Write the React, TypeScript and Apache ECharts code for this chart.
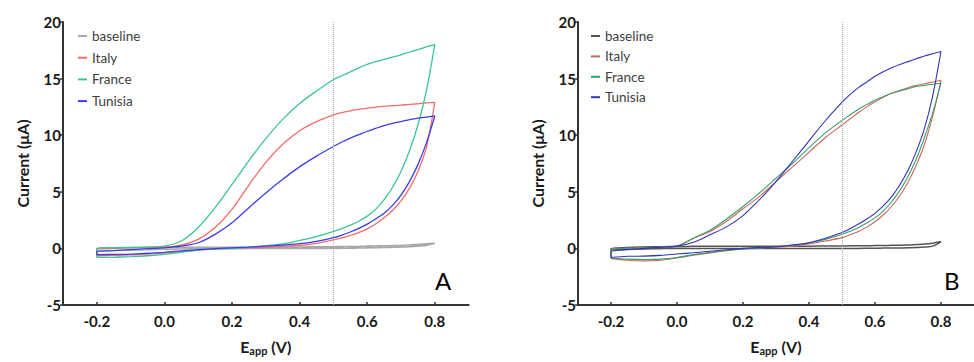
import React, { useEffect, useRef } from "react";
import * as echarts from "echarts";

// Applied potential grid (V) at which currents were read
const potentials = [-0.2, -0.15, -0.1, -0.05, 0, 0.05, 0.1, 0.15, 0.2, 0.25, 0.3, 0.35, 0.4, 0.45, 0.5, 0.525, 0.55, 0.575, 0.6, 0.625, 0.65, 0.675, 0.7, 0.725, 0.75, 0.775, 0.8];
const xTickValues = [-0.2, 0, 0.2, 0.4, 0.6, 0.8];
const referencePotential = 0.5;
const seriesNames = ["baseline", "Italy", "France", "Tunisia"];

// Panel A — current (µA): forward sweep (lower branch) and reverse sweep (upper branch)
const aBaselineFwd = [-0.2, -0.18, -0.15, -0.12, -0.08, -0.05, -0.03, -0.02, -0.02, -0.01, 0.0, 0.0, 0.0, 0.0, 0.0, 0.01, 0.02, 0.03, 0.05, 0.06, 0.08, 0.1, 0.12, 0.15, 0.2, 0.27, 0.45];
const aBaselineRev = [0.0, 0.05, 0.08, 0.1, 0.1, 0.1, 0.1, 0.1, 0.1, 0.1, 0.12, 0.12, 0.13, 0.14, 0.15, 0.16, 0.17, 0.18, 0.2, 0.21, 0.23, 0.25, 0.27, 0.3, 0.35, 0.4, 0.45];
const aItalyFwd = [-0.65, -0.62, -0.58, -0.5, -0.4, -0.28, -0.15, -0.06, 0.0, 0.05, 0.1, 0.18, 0.28, 0.45, 0.75, 0.93, 1.15, 1.4, 1.72, 2.15, 2.7, 3.35, 4.2, 5.3, 6.8, 8.9, 12.9];
const aItalyRev = [-0.05, 0.0, 0.05, 0.08, 0.1, 0.3, 0.8, 1.85, 3.45, 5.6, 7.6, 9.2, 10.4, 11.2, 11.8, 12.0, 12.15, 12.28, 12.4, 12.48, 12.55, 12.6, 12.65, 12.72, 12.78, 12.85, 12.9];
const aFranceFwd = [-0.8, -0.78, -0.73, -0.65, -0.53, -0.35, -0.15, -0.05, 0.0, 0.1, 0.25, 0.4, 0.7, 1.05, 1.5, 1.75, 2.05, 2.4, 2.85, 3.45, 4.3, 5.4, 6.8, 8.6, 10.9, 13.9, 18.0];
const aFranceRev = [0.0, 0.05, 0.08, 0.12, 0.2, 0.65, 1.85, 3.6, 5.65, 7.75, 9.7, 11.4, 12.8, 13.9, 14.9, 15.25, 15.6, 15.95, 16.25, 16.5, 16.7, 16.9, 17.1, 17.35, 17.55, 17.8, 18.0];
const aTunisiaFwd = [-0.55, -0.53, -0.5, -0.43, -0.35, -0.22, -0.1, -0.02, 0.05, 0.12, 0.2, 0.3, 0.42, 0.62, 0.95, 1.18, 1.45, 1.77, 2.15, 2.6, 3.1, 3.8, 4.7, 5.9, 7.4, 9.3, 11.7];
const aTunisiaRev = [-0.3, -0.2, -0.1, -0.02, 0.05, 0.2, 0.5, 1.24, 2.27, 3.6, 4.9, 6.1, 7.2, 8.15, 9.0, 9.4, 9.75, 10.05, 10.35, 10.6, 10.85, 11.05, 11.2, 11.38, 11.5, 11.6, 11.7];

// Panel B
const bBaselineFwd = [-0.15, -0.1, -0.05, -0.02, 0.0, 0.0, 0.0, 0.0, 0.0, 0.0, 0.0, 0.0, 0.0, 0.0, 0.0, 0.0, 0.0, 0.01, 0.02, 0.025, 0.03, 0.04, 0.05, 0.08, 0.12, 0.2, 0.6];
const bBaselineRev = [0.0, 0.08, 0.12, 0.15, 0.17, 0.18, 0.18, 0.18, 0.19, 0.19, 0.2, 0.2, 0.2, 0.21, 0.22, 0.225, 0.23, 0.24, 0.25, 0.26, 0.27, 0.28, 0.3, 0.34, 0.38, 0.46, 0.6];
const bItalyFwd = [-0.9, -1.05, -1.1, -1.05, -0.85, -0.6, -0.4, -0.2, -0.05, 0.05, 0.1, 0.2, 0.4, 0.65, 0.95, 1.2, 1.5, 1.88, 2.35, 2.95, 3.7, 4.65, 5.85, 7.35, 9.2, 11.7, 14.85];
const bItalyRev = [-0.1, 0.0, 0.05, 0.1, 0.2, 0.9, 1.5, 2.4, 3.5, 4.6, 5.9, 7.2, 8.5, 9.8, 10.9, 11.45, 12.0, 12.5, 12.95, 13.35, 13.7, 13.95, 14.2, 14.4, 14.55, 14.7, 14.85];
const bFranceFwd = [-0.85, -0.95, -0.98, -0.95, -0.8, -0.55, -0.35, -0.18, -0.05, 0.05, 0.15, 0.3, 0.5, 0.8, 1.25, 1.52, 1.85, 2.25, 2.7, 3.3, 4.1, 5.1, 6.35, 7.9, 9.8, 12.0, 14.6];
const bFranceRev = [-0.1, 0.0, 0.05, 0.1, 0.2, 0.9, 1.6, 2.6, 3.7, 4.9, 6.2, 7.5, 8.9, 10.2, 11.3, 11.8, 12.3, 12.7, 13.1, 13.4, 13.7, 13.9, 14.1, 14.3, 14.4, 14.5, 14.6];
const bTunisiaFwd = [-0.8, -0.7, -0.68, -0.62, -0.5, -0.38, -0.25, -0.12, 0.0, 0.08, 0.15, 0.3, 0.5, 0.9, 1.4, 1.75, 2.15, 2.6, 3.1, 3.75, 4.55, 5.6, 6.9, 8.55, 10.6, 13.5, 17.4];
const bTunisiaRev = [-0.3, -0.1, 0.0, 0.1, 0.2, 0.55, 1.2, 1.9, 2.9, 4.3, 5.9, 7.7, 9.5, 11.3, 12.9, 13.6, 14.2, 14.7, 15.2, 15.6, 15.95, 16.25, 16.5, 16.75, 17.0, 17.2, 17.4];

const panelA = [
  { fwd: aBaselineFwd, rev: aBaselineRev, color: "#a8a8a8", width: 1.6 },
  { fwd: aItalyFwd, rev: aItalyRev, color: "#f26c6c", width: 1.3 },
  { fwd: aFranceFwd, rev: aFranceRev, color: "#3cc68c", width: 1.3 },
  { fwd: aTunisiaFwd, rev: aTunisiaRev, color: "#3c3cf0", width: 1.3 },
];
const panelB = [
  { fwd: bBaselineFwd, rev: bBaselineRev, color: "#555555", width: 1.5 },
  { fwd: bItalyFwd, rev: bItalyRev, color: "#c8685c", width: 1.1 },
  { fwd: bFranceFwd, rev: bFranceRev, color: "#3a9e6c", width: 1.1 },
  { fwd: bTunisiaFwd, rev: bTunisiaRev, color: "#3434b8", width: 1.1 },
];

function loop(fwd: number[], rev: number[]) {
  const pts: number[][] = potentials.map((e, i) => [e, fwd[i]]);
  for (let i = potentials.length - 2; i >= 0; i--) pts.push([potentials[i], rev[i]]);
  pts.push([potentials[0], fwd[0]]);
  return pts;
}

const FONT = "Lato";

function makeXAxis(gridIndex: number) {
  return {
    type: "value",
    gridIndex,
    min: -0.3,
    max: 0.9,
    axisLine: { onZero: false, lineStyle: { color: "#333", width: 2 } },
    axisTick: { show: true, inside: true, length: 3, customValues: xTickValues, lineStyle: { color: "#333", width: 1.5 } },
    axisLabel: {
      customValues: xTickValues,
      formatter: (v: number) => v.toFixed(1),
      fontFamily: FONT,
      fontWeight: "bold",
      fontSize: 15,
      color: "#1a1a1a",
      margin: 8,
    },
    splitLine: { show: false },
    name: "{e|E}{s|app}{e| (V)}",
    nameLocation: "middle",
    nameGap: 32,
    nameTextStyle: {
      rich: {
        e: { fontFamily: FONT, fontWeight: "bold", fontSize: 16, color: "#1a1a1a" },
        s: { fontFamily: FONT, fontWeight: "bold", fontSize: 11, color: "#1a1a1a", padding: [8, 0, 0, 0] },
      },
    },
  };
}

function makeYAxis(gridIndex: number) {
  return {
    type: "value",
    gridIndex,
    min: -5,
    max: 20,
    interval: 5,
    axisLine: { show: true, onZero: false, lineStyle: { color: "#333", width: 2 } },
    axisTick: { show: true, length: 3, lineStyle: { color: "#333", width: 1.5 } },
    axisLabel: {
      fontFamily: FONT,
      fontWeight: "bold",
      fontSize: 15,
      color: "#1a1a1a",
      margin: 2,
    },
    splitLine: { show: false },
    name: "Current (μA)",
    nameLocation: "middle",
    nameGap: 33,
    nameTextStyle: { fontFamily: FONT, fontWeight: "bold", fontSize: 16, color: "#1a1a1a" },
  };
}

export default function App() {
  const ref = useRef<HTMLDivElement>(null);
  useEffect(() => {
    if (!ref.current) return;
    const chart = echarts.init(ref.current, undefined, { renderer: "svg" });
    const series: any[] = [];
    const panels = [panelA, panelB];
    const tags = ["A", "B"];
    panels.forEach((panel, p) => {
      panel.forEach((s, i) => {
        const item: any = {
          type: "line",
          name: seriesNames[i] + "|" + tags[p],
          xAxisIndex: p,
          yAxisIndex: p,
          data: loop(s.fwd, s.rev),
          symbol: "none",
          smooth: 0.3,
          lineStyle: { color: s.color, width: s.width },
          itemStyle: { color: s.color },
          z: 3,
        };
        if (i === 0) {
          item.markLine = {
            silent: true,
            symbol: "none",
            label: { show: false },
            lineStyle: { type: "dotted", color: "#aaaaaa", width: 1 },
            data: [{ xAxis: referencePotential }],
          };
        }
        series.push(item);
      });
    });
    const legendCommon = {
      orient: "vertical",
      icon: "rect",
      itemWidth: 9,
      itemHeight: 2,
      padding: 0,
      formatter: (n: string) => n.split("|")[0],
      textStyle: { fontFamily: FONT, fontSize: 13.5, color: "#404040", lineHeight: 14 },
      selectedMode: false,
    };
    chart.setOption({
      animation: false,
      textStyle: { fontFamily: FONT },
      grid: [
        { left: 63, top: 22, width: 405.6, height: 283 },
        { left: 578, top: 22, width: 405.6, height: 283 },
      ],
      xAxis: [makeXAxis(0), makeXAxis(1)],
      yAxis: [makeYAxis(0), makeYAxis(1)],
      legend: [
        { ...legendCommon, left: 78, top: 29, itemGap: 7.7, data: seriesNames.map((n) => n + "|A") },
        { ...legendCommon, left: 591, top: 29, itemGap: 6.4, data: seriesNames.map((n) => n + "|B") },
      ],
      graphic: [
        { type: "text", left: 435, top: 268, style: { text: "A", fontFamily: FONT, fontSize: 24, fill: "#000" } },
        { type: "text", left: 944, top: 268, style: { text: "B", fontFamily: FONT, fontSize: 24, fill: "#000" } },
      ],
      series,
    });
    return () => chart.dispose();
  }, []);
  return <div ref={ref} style={{ position: "absolute", left: 0, top: 0, width: 974, height: 362 }} />;
}
